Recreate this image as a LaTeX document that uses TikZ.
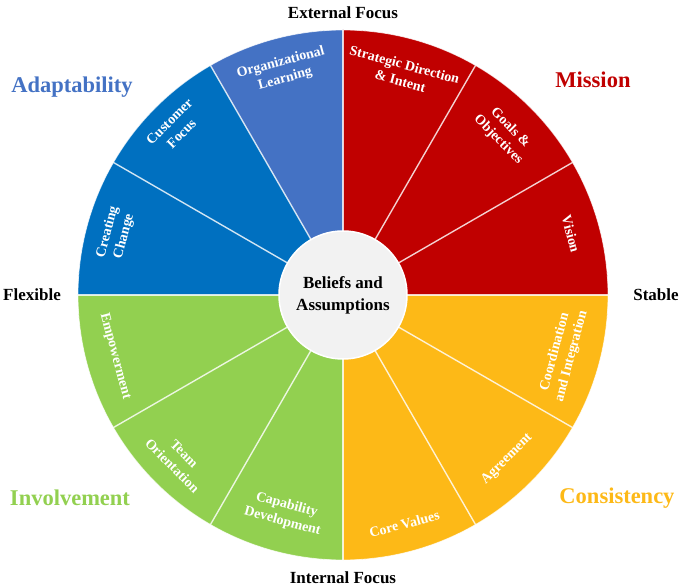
\documentclass[tikz,border=0pt]{standalone}
\usepackage{fontspec}
\setmainfont{Liberation Serif}
\definecolor{adaptblue}{HTML}{4472C4}
\definecolor{deepblue}{HTML}{0070C0}
\definecolor{missionred}{HTML}{C00000}
\definecolor{consistgold}{HTML}{FDB917}
\definecolor{involvegreen}{HTML}{92D050}
\definecolor{corefill}{HTML}{F2F2F2}
\begin{document}
\begin{tikzpicture}[x=1pt,y=1pt,
  seg/.style={text=white, font=\bfseries\fontsize{14}{17}\selectfont, align=center, inner sep=0pt},
  axislabel/.style={font=\bfseries\fontsize{17}{20}\selectfont, text=black},
  trait/.style={font=\bfseries\fontsize{22.5}{26}\selectfont},
  divider/.style={draw=white, draw opacity=0.8, line width=1.4pt}]
\useasboundingbox (-343,-293) rectangle (337,295);
\coordinate (c) at (0,0);
\def\R{265pt}
% twelve 30-degree wedges, coloured by quadrant
\foreach \a/\col in {0/missionred,30/missionred,60/missionred,
                     90/adaptblue,120/deepblue,150/deepblue,
                     180/involvegreen,210/involvegreen,240/involvegreen,
                     270/consistgold,300/consistgold,330/consistgold}
  \fill[\col] (c) -- (\a:\R) arc[start angle=\a, delta angle=30, radius=\R] -- cycle;
% spokes and rim
\foreach \a in {0,30,...,330}
  \draw[divider] (c) -- (\a:\R);
\draw[draw=white, draw opacity=0.7, line width=0.8pt] (c) circle[radius=\R];
% hub
\node[circle, fill=corefill, draw=white, line width=1.5pt, minimum size=128pt,
      align=center, inner sep=0pt, font=\bfseries\fontsize{17}{22}\selectfont] (core) at (c)
      {Beliefs and\\Assumptions};
% wedge labels
\node[seg, rotate=15]  (orglearn)   at (105:232pt) {Organizational\\Learning};
\node[seg, rotate=-15] (strategic)  at (75:230pt)  {Strategic Direction\\\& Intent};
\node[seg, rotate=-45] (goals)      at (45:228pt)  {Goals \&\\Objectives};
\node[seg, rotate=-75] (vision)     at (15:236pt)  {Vision};
\node[seg, rotate=75]  (coord)      at (-15:228pt) {Coordination\\and Integration};
\node[seg, rotate=45]  (agree)      at (-45:232pt) {Agreement};
\node[seg, rotate=15]  (corevalues) at (-75:237pt) {Core Values};
\node[seg, rotate=-15] (capability) at (-105:226pt) {Capability\\Development};
\node[seg, rotate=-45] (team)       at (-135:233pt) {Team\\Orientation};
\node[seg, rotate=-75] (empower)    at (-165:236pt) {Empowerment};
\node[seg, rotate=75]  (creating)   at (165:235pt) {Creating\\Change};
\node[seg, rotate=45]  (customer)   at (135:237pt) {Customer\\Focus};
% quadrant traits
\node[trait, text=adaptblue]    (adapt)   at (-271,208)  {Adaptability};
\node[trait, text=missionred]   (mission) at (250,215)   {Mission};
\node[trait, text=involvegreen] (involve) at (-273,-203) {Involvement};
\node[trait, text=consistgold]  (consist) at (274,-203)  {Consistency};
% axis labels
\node[axislabel] (external) at (0,282)   {External Focus};
\node[axislabel] (internal) at (0,-283)  {Internal Focus};
\node[axislabel] (flexible) at (-311,0)  {Flexible};
\node[axislabel] (stable)   at (313,0)   {Stable};
\end{tikzpicture}
\end{document}
